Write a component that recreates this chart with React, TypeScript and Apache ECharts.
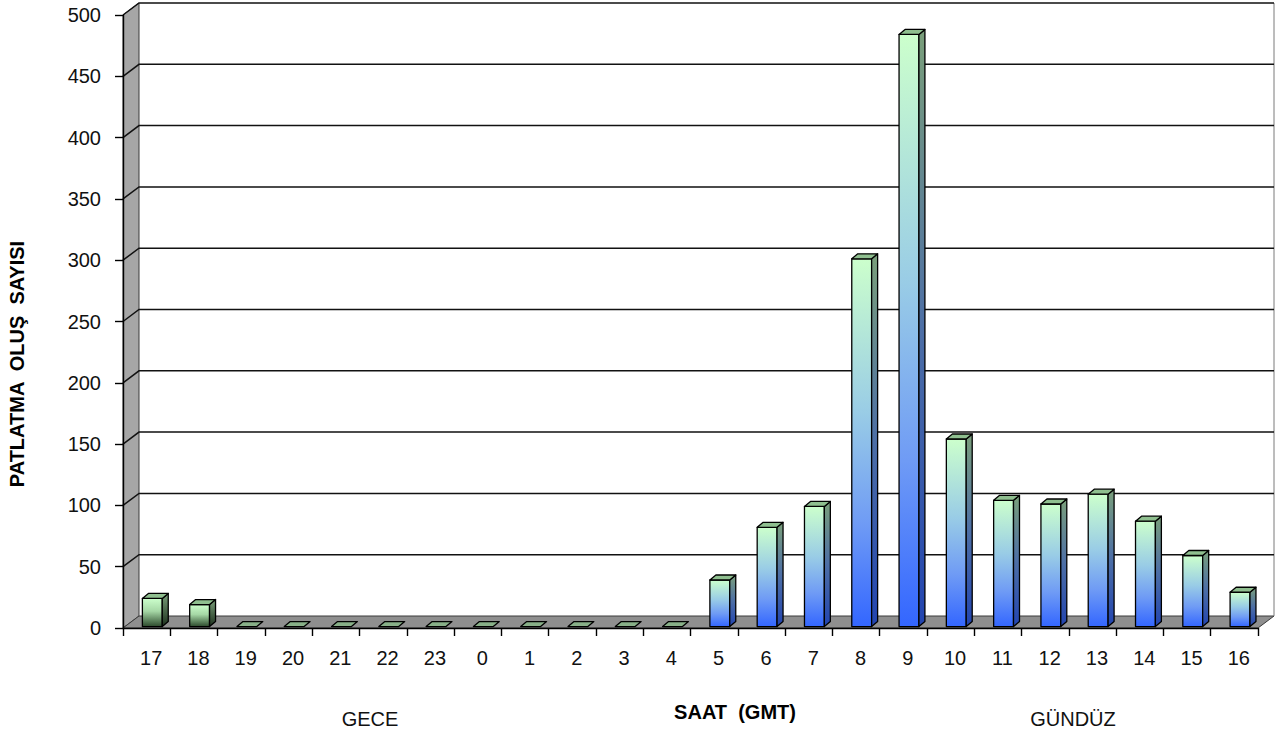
import React, { useEffect, useRef } from "react";
import * as echarts from "echarts";

const hours = ["17","18","19","20","21","22","23","0","1","2","3","4","5","6","7","8","9","10","11","12","13","14","15","16"];
const counts = [23, 18, 0, 0, 0, 0, 0, 0, 0, 0, 0, 0, 38, 81, 98, 300, 483, 153, 103, 100, 108, 86, 58, 28];
// 0 = night (GECE), 1 = day (GÜNDÜZ)
const period = [0,0,0,0,0,0,0,0,0,0,0,0,1,1,1,1,1,1,1,1,1,1,1,1];
const yTicks = [50, 100, 150, 200, 250, 300, 350, 400, 450, 500];

const FONT = "'Liberation Sans', Arial, sans-serif";
const DX = 16;
const DY = -12;

export default function App() {
  const ref = useRef<HTMLDivElement>(null);
  useEffect(() => {
    const chart = echarts.init(ref.current!, null, { renderer: "svg" });

    const bgRender = (params: any, api: any) => {
      const cs = params.coordSys;
      const L = cs.x, T = cs.y, R = cs.x + cs.width, B = cs.y + cs.height;
      const children: any[] = [];
      children.push({
        type: "polygon",
        shape: { points: [[L, B], [L + DX, B + DY], [L + DX, T + DY], [L, T]] },
        style: { fill: "#a6a6a6", stroke: "#3a3a3a", lineWidth: 1 },
      });
      children.push({
        type: "polygon",
        shape: { points: [[L, B], [R, B], [R + DX, B + DY], [L + DX, B + DY]] },
        style: { fill: "#8f8f8f", stroke: "#3a3a3a", lineWidth: 1 },
      });
      children.push({
        type: "line",
        shape: { x1: R + DX, y1: B + DY, x2: R + DX, y2: T + DY },
        style: { stroke: "#7a7a7a", lineWidth: 1 },
      });
      yTicks.forEach((v) => {
        const y = api.coord([0, v])[1];
        children.push({
          type: "polyline",
          shape: { points: [[L, y], [L + DX, y + DY], [R + DX, y + DY]] },
          style: { stroke: "#111", lineWidth: 1.5, fill: null },
        });
      });
      return { type: "group", children };
    };

    const barRender = (params: any, api: any) => {
      const idx = api.value(0);
      const val = api.value(1);
      const night = api.value(2) === 0;
      const [cx, yTop0] = api.coord([idx, val]);
      const [, y00] = api.coord([idx, 0]);
      const bw = api.size([1, 0])[0];
      const lift = 1.4;
      const yTop = yTop0 - lift;
      const y0 = y00 - lift;
      const x = cx - bw * 0.09;
      const w = bw * 0.42;
      const dx = 6;
      const dy = -5;
      const h = y0 - yTop;
      const frontGrad = night
        ? new echarts.graphic.LinearGradient(0, 0, 0, 1, [
            { offset: 0, color: "#ccffcc" },
            { offset: 0.45, color: "#a6d8a6" },
            { offset: 1, color: "#2c4a2c" },
          ])
        : new echarts.graphic.LinearGradient(0, 0, 0, 1, [
            { offset: 0, color: "#ccffcc" },
            { offset: 0.42, color: "#99cce6" },
            { offset: 0.72, color: "#6f9bf5" },
            { offset: 1, color: "#3366ff" },
          ]);
      const sideGrad = night
        ? new echarts.graphic.LinearGradient(0, 0, 0, 1, [
            { offset: 0, color: "#7a9f7a" },
            { offset: 1, color: "#1c301c" },
          ])
        : new echarts.graphic.LinearGradient(0, 0, 0, 1, [
            { offset: 0, color: "#7a9f7a" },
            { offset: 0.5, color: "#4d6fa6" },
            { offset: 1, color: "#2244b0" },
          ]);
      const stroke = { stroke: "#000", lineWidth: 1.3, lineJoin: "round" };
      const children: any[] = [];
      if (h > 0.5) {
        children.push({
          type: "rect",
          shape: { x, y: yTop, width: w, height: h },
          style: { fill: frontGrad, ...stroke },
        });
        children.push({
          type: "polygon",
          shape: { points: [[x + w, yTop], [x + w + dx, yTop + dy], [x + w + dx, y0 + dy], [x + w, y0]] },
          style: { fill: sideGrad, ...stroke },
        });
      }
      children.push({
        type: "polygon",
        shape: { points: [[x, yTop], [x + dx, yTop + dy], [x + w + dx, yTop + dy], [x + w, yTop]] },
        style: { fill: h > 0.5 ? "#8fbf8f" : "#88b088", ...stroke },
      });
      return { type: "group", children };
    };

    chart.setOption({
      animation: false,
      grid: { left: 123, top: 15, width: 1135, height: 613, containLabel: false },
      xAxis: {
        type: "category",
        data: hours,
        z: 5,
        axisLine: { show: true, lineStyle: { color: "#000", width: 1.4 } },
        axisTick: { show: true, interval: 0, length: 8, lineStyle: { color: "#000", width: 1.4 } },
        axisLabel: { interval: 0, margin: 20, fontSize: 20, color: "#111", fontFamily: FONT, padding: [0, 0, 0, 9] },
        splitLine: { show: false },
      },
      yAxis: {
        type: "value",
        min: 0,
        max: 500,
        interval: 50,
        z: 5,
        axisLine: { show: true, lineStyle: { color: "#000", width: 1.4 } },
        axisTick: { show: true, length: 8, lineStyle: { color: "#000", width: 1.4 } },
        axisLabel: { margin: 22, fontSize: 20, color: "#111", fontFamily: FONT },
        splitLine: { show: false },
      },
      series: [
        {
          type: "custom",
          z: 1,
          renderItem: bgRender,
          data: [[0, 0]],
          silent: true,
        },
        {
          type: "custom",
          z: 3,
          renderItem: barRender,
          data: counts.map((v, i) => [i, v, period[i]]),
          encode: { x: 0, y: 1 },
        },
      ],
      graphic: [
        {
          type: "text",
          x: 17,
          y: 364,
          rotation: Math.PI / 2,
          style: {
            text: "PATLATMA  OLUŞ  SAYISI",
            fontFamily: FONT,
            fontSize: 20,
            fontWeight: "bold",
            fill: "#000",
            align: "center",
            verticalAlign: "middle",
          },
        },
        {
          type: "text",
          x: 370,
          y: 719,
          style: { text: "GECE", fontFamily: FONT, fontSize: 20, fill: "#111", align: "center", verticalAlign: "middle" },
        },
        {
          type: "text",
          x: 735,
          y: 712,
          style: { text: "SAAT  (GMT)", fontFamily: FONT, fontSize: 20, fontWeight: "bold", fill: "#000", align: "center", verticalAlign: "middle" },
        },
        {
          type: "text",
          x: 1073,
          y: 719,
          style: { text: "GÜNDÜZ", fontFamily: FONT, fontSize: 20, fill: "#111", align: "center", verticalAlign: "middle" },
        },
      ],
    });
    return () => chart.dispose();
  }, []);
  return (
    <div
      ref={ref}
      style={{ position: "fixed", left: 0, top: 0, width: 1280, height: 738, background: "#fff" }}
    />
  );
}
